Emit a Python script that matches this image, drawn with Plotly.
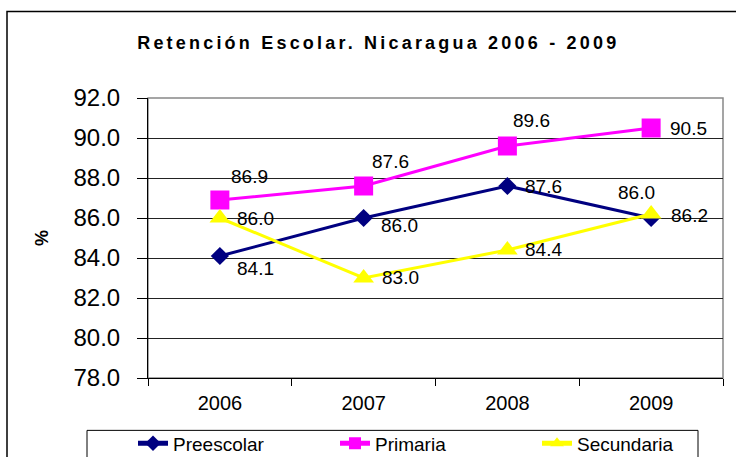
import plotly.graph_objects as go

years = ["2006", "2007", "2008", "2009"]
preescolar = [84.1, 86.0, 87.6, 86.0]
primaria = [86.9, 87.6, 89.6, 90.5]
secundaria = [86.0, 83.0, 84.4, 86.2]
y_ticks = [78, 80, 82, 84, 86, 88, 90, 92]

FONT = "Liberation Sans, Arial, sans-serif"

fig = go.Figure()
fig.add_trace(go.Scatter(x=years, y=preescolar, name="Preescolar", mode="lines+markers",
                         line=dict(color="#000080", width=3),
                         marker=dict(symbol="diamond", size=14, color="#000080")))
fig.add_trace(go.Scatter(x=years, y=primaria, name="Primaria", mode="lines+markers",
                         line=dict(color="#FF00FF", width=3),
                         marker=dict(symbol="square", size=19, color="#FF00FF")))
fig.add_trace(go.Scatter(x=years, y=secundaria, name="Secundaria", mode="lines+markers",
                         line=dict(color="#FFFF00", width=3),
                         marker=dict(symbol="triangle-up", size=18, color="#FFFF00")))

# label offsets (pixels, +y = down) per series/point
offsets = {
    0: [(36, 12), (36, 7), (36, 0), (-15, -26)],
    1: [(30, -24), (27, -25), (24, -26), (37, 0)],
    2: [(36, 0), (37, -1), (36, -1), (38, 1)],
}
series = [preescolar, primaria, secundaria]
annotations = []
for si, vals in enumerate(series):
    for i, v in enumerate(vals):
        dx, dy = offsets[si][i]
        annotations.append(dict(x=i, y=v, xref="x", yref="y", text=f"{v:.1f}",
                                showarrow=False, xshift=dx, yshift=-dy,
                                font=dict(family=FONT, size=19, color="black")))

annotations.append(dict(text="<b>%</b>", xref="paper", yref="paper", x=(42 - 148) / 575,
                        y=0.5, xanchor="center", yanchor="middle",
                        showarrow=False, textangle=-90,
                        font=dict(family=FONT, size=18, color="black")))

fig.update_layout(
    width=736, height=457,
    margin=dict(l=148, r=13, t=98, b=79, autoexpand=False),
    paper_bgcolor="white", plot_bgcolor="white",
    title=dict(text="<b>Retención Escolar. Nicaragua 2006 - 2009</b>",
               x=0.514, xanchor="center", y=1 - 43 / 457, yanchor="middle",
               xref="container", yref="container",
               font=dict(family=FONT, size=18, color="black")),
    xaxis=dict(type="category", tickson="boundaries", ticks="outside", ticklen=7,
               tickcolor="black", showline=True, linecolor="black", linewidth=1,
               showgrid=False, tickfont=dict(family=FONT, size=20, color="black"),
               ticklabelstandoff=7, range=[-0.5, 3.5]),
    yaxis=dict(range=[78, 92], tickvals=y_ticks, ticktext=[f"{t:.1f}" for t in y_ticks],
               ticks="outside", ticklen=10, tickcolor="black", showline=True,
               linecolor="black", linewidth=1, showgrid=True, gridcolor="#222222",
               gridwidth=1, zeroline=False, ticklabelstandoff=12,
               tickfont=dict(family=FONT, size=24, color="black")),
    legend=dict(orientation="h", x=(133 - 148) / 575, y=(378 - 424) / 278,
                xanchor="left", yanchor="top",
                borderwidth=0, bgcolor="rgba(0,0,0,0)",
                font=dict(family=FONT, size=19, color="black"),
                entrywidth=157, entrywidthmode="pixels", itemsizing="constant"),
    annotations=annotations,
    shapes=[
        # plot-area frame (grey)
        dict(type="rect", xref="paper", yref="paper", x0=0, x1=1, y0=0, y1=1,
             line=dict(color="#888888", width=1.5), layer="below"),
        # outer chart frame
        dict(type="rect", xref="paper", yref="paper",
             x0=(7 - 148) / 575, x1=1.2, y0=-0.5, y1=(378 - 14) / 278,
             line=dict(color="black", width=1.5), layer="below"),
        # legend box
        dict(type="rect", xref="paper", yref="paper",
             x0=(87 - 148) / 575, x1=(698 - 148) / 575,
             y0=-0.5, y1=(378 - 430) / 278,
             line=dict(color="black", width=1), layer="below"),
    ],
    showlegend=True,
)

post = """
document.body.style.margin='0';
document.body.style.overflow='hidden';
function sp(){var t=document.querySelectorAll('.gtitle');
 for(var k=0;k<t.length;k++){t[k].style.letterSpacing='3.2px';}}
sp(); setTimeout(sp, 30); setTimeout(sp, 300);
"""
fig.write_html("out.html", post_script=post, config={"displayModeBar": False})
